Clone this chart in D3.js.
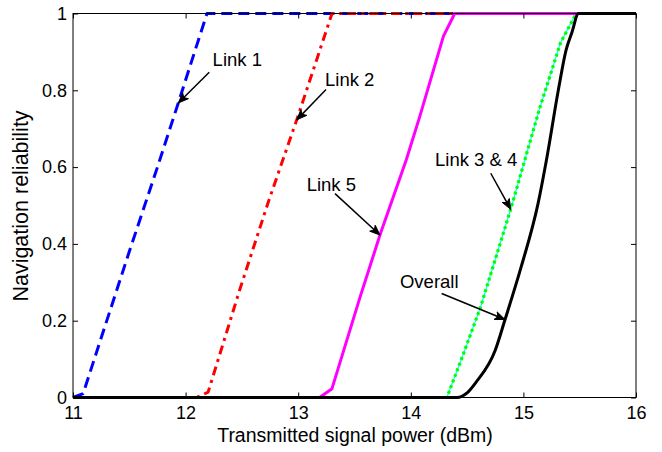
<!DOCTYPE html>
<html><head><meta charset="utf-8">
<script src="https://cdn.jsdelivr.net/npm/d3@7"></script>
<style>body{margin:0;background:#fff;} svg{display:block;} text{font-family:"Liberation Sans",Arial,sans-serif;fill:#000;}</style>
</head><body>
<svg id="chart" width="662" height="452"></svg>
<script>
// ---- data (x: transmitted power dBm, y: navigation reliability) ----
const link1 = [[11,0],[11.09,0.01],[11.25,0.155],[11.5,0.38],[11.75,0.6],[11.935,0.767],[12.08,0.9],[12.19,1],[16,1]];
const link2 = [[11,0],[12.1,0],[12.2,0.014],[12.48,0.28],[12.74,0.514],[12.987,0.723],[13.3,1],[16,1]];
const link3 = [[11,0],[14.32,0],[14.45,0.1],[14.62,0.236],[14.887,0.49],[15.14,0.749],[15.33,0.924],[15.45,0.99],[15.47,1],[16,1]];
const link4 = link3;
const link5 = [[11,0],[13.19,0],[13.3,0.023],[13.55,0.262],[13.726,0.423],[13.96,0.619],[14.08,0.732],[14.29,0.941],[14.39,1],[16,1]];
const overall = [[11,0],[14.41,0],[14.5,0.012],[14.58,0.04],[14.75,0.123],[14.837,0.203],[14.98,0.34],[15.13,0.505],[15.21,0.627],[15.31,0.8],[15.38,0.906],[15.43,0.95],[15.49,1],[16,1]];
const xTicks = [11,12,13,14,15,16];
const yTicks = [0,0.2,0.4,0.6,0.8,1];
const xLabel = "Transmitted signal power (dBm)";
const yLabel = "Navigation reliability";
// annotations: label, text anchor (x,y), arrow start, arrow tip (data units)
const annLabels = ["Link 1","Link 2","Link 5","Link 3 & 4","Overall"];
const annText  = [[12.24,0.862],[13.238,0.81],[13.075,0.539],[14.215,0.603],[13.904,0.284]];
const annFrom  = [[12.21,0.847],[13.247,0.802],[13.327,0.531],[14.71,0.584],[14.274,0.271]];
const annTip   = [[11.935,0.767],[12.987,0.723],[13.726,0.423],[14.887,0.49],[14.837,0.203]];

const svg = d3.select("#chart");
const L=73, R=636, T=13.5, B=397.5;
const x = d3.scaleLinear().domain([11,16]).range([L,R]);
const y = d3.scaleLinear().domain([0,1]).range([B,T]);
const line = d3.line().x(d=>x(d[0])).y(d=>y(d[1]));
const smooth = d3.line().x(d=>x(d[0])).y(d=>y(d[1])).curve(d3.curveMonotoneX);

const series = [
  {data:link1, color:"#0000ff", w:3, dash:"11,6", gen:line},
  {data:link2, color:"#ff0000", w:3, dash:"9,5,3,5", gen:line},
  {data:link3, color:"#00ffff", w:1.2, dash:null, gen:line},
  {data:link4, color:"#00ff00", w:3.2, dash:"3,3", gen:line},
  {data:link5, color:"#ff00ff", w:3, dash:null, gen:line},
  {data:overall, color:"#000000", w:3, dash:null, gen:smooth}
];
const g = svg.append("g");
series.forEach(s=>{
  g.append("path").attr("d",s.gen(s.data)).attr("fill","none")
   .attr("stroke",s.color).attr("stroke-width",s.w)
   .attr("stroke-dasharray",s.dash).attr("stroke-linejoin","round");
});

// axes (MATLAB style box, ticks inside)
const ax = svg.append("g");
ax.append("g").attr("transform",`translate(0,${B})`).call(d3.axisBottom(x).tickValues(xTicks).tickSize(-5).tickPadding(9).tickFormat(d3.format("d")));
ax.append("g").attr("transform",`translate(0,${T})`).call(d3.axisTop(x).tickValues(xTicks).tickSize(-5).tickFormat(""));
ax.append("g").attr("transform",`translate(${L},0)`).call(d3.axisLeft(y).tickValues(yTicks).tickSize(-5).tickPadding(6).tickFormat(d=>d===0||d===1?d3.format("d")(d):d3.format(".1f")(d)));
ax.append("g").attr("transform",`translate(${R},0)`).call(d3.axisRight(y).tickValues(yTicks).tickSize(-5).tickFormat(""));
ax.selectAll(".domain").remove();
ax.selectAll("line").attr("stroke","#000").attr("stroke-width",1);
ax.selectAll("text").style("font-family","Liberation Sans, Arial, sans-serif").style("font-size","18px").attr("fill","#000");
ax.append("rect").attr("x",L).attr("y",T).attr("width",R-L).attr("height",B-T).attr("fill","none").attr("stroke","#000").attr("stroke-width",1);

// labels
svg.append("text").attr("x",355).attr("y",441.5).attr("text-anchor","middle").style("font-size","19.5px").text(xLabel);
svg.append("text").attr("transform",`translate(28,206) rotate(-90)`).attr("text-anchor","middle").style("font-size","21.5px").text(yLabel);

// annotations
const an = svg.append("g");
annLabels.forEach((lab,i)=>{
  an.append("text").attr("x",x(annText[i][0])).attr("y",y(annText[i][1])).style("font-size","18.5px").text(lab);
  const x0=x(annFrom[i][0]), y0=y(annFrom[i][1]), x1=x(annTip[i][0]), y1=y(annTip[i][1]);
  an.append("line").attr("x1",x0).attr("y1",y0).attr("x2",x1).attr("y2",y1).attr("stroke","#000").attr("stroke-width",1.5);
  const a=Math.atan2(y1-y0,x1-x0), len=11, sp=0.38;
  const p1=[x1-len*Math.cos(a-sp), y1-len*Math.sin(a-sp)];
  const p2=[x1-len*Math.cos(a+sp), y1-len*Math.sin(a+sp)];
  const pm=[x1-len*0.7*Math.cos(a), y1-len*0.7*Math.sin(a)];
  an.append("path").attr("d",`M${p1}L${x1},${y1}L${p2}L${pm}Z`).attr("fill","#000").attr("stroke","#000").attr("stroke-width",1).attr("stroke-linejoin","miter");
});
</script>
</body></html>
